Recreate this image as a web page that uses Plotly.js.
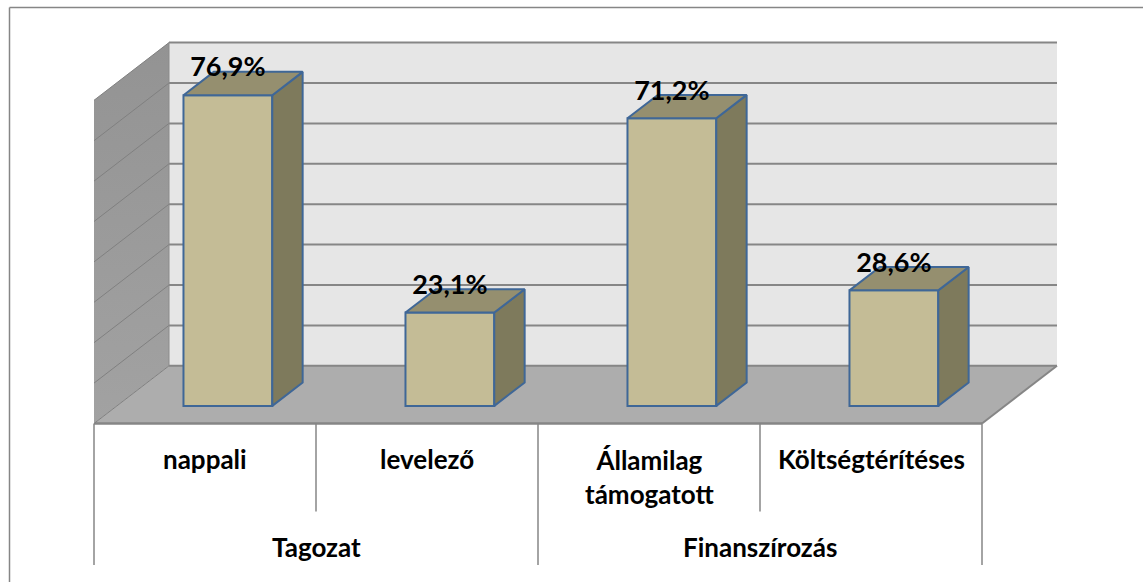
<!DOCTYPE html>
<html><head><meta charset="utf-8">
<script src="https://cdn.plot.ly/plotly-3.0.1.min.js"></script>
<style>html,body{margin:0;padding:0;background:#fff}#c{width:1143px;height:582px}</style>
</head><body><div id="c"></div>
<script>
const categories = ['nappali','levelező','Államilag<br>támogatott','Költségtérítéses'];
const values = [76.9,23.1,71.2,28.6];
const valueLabels = ['76,9%','23,1%','71,2%','28,6%'];
const groups = ['Tagozat','Finanszírozás'];
const groupSpans = [[0,2],[2,4]];
const gridValues = [0,10,20,30,40,50,60,70,80];

const W=1143,H=582;
// pixel calibration of the value/category axes
const px0=94, pxUnit=222, py0=423.5, pyUnit=4.04;
const xr=[-px0/pxUnit,(W-px0)/pxUnit], yr=[(py0-H)/pyUnit,py0/pyUnit];
const dX=75/pxUnit, dY=57.7/pyUnit;       // full depth of the floor
const barW=0.4, barFront=0.305, barDepth=0.405;
const bX=barFront*dX, bY=barFront*dY, sX=barDepth*dX, sY=barDepth*dY;
const axisBelow1=-88/pyUnit, axisBelow2=-141.5/pyUnit;
const gridC='#868686', edge='#3f6797';

const poly=(pts,fill)=>({type:'path',layer:'below',xref:'x',yref:'y',
  path:'M'+pts.map(p=>p.join(',')).join('L')+'Z',fillcolor:fill,line:{color:fill,width:0}});
const seg=(x0,y0,x1,y1,c,w)=>({type:'line',layer:'below',xref:'x',yref:'y',x0,y0,x1,y1,line:{color:c,width:w}});
const nCat=categories.length;
const shapes=[
  {type:'line',xref:'paper',yref:'paper',layer:'below',x0:9.5/W,x1:1,y0:1-7.5/H,y1:1-7.5/H,line:{color:'#868686',width:1.5}},
  {type:'line',xref:'paper',yref:'paper',layer:'below',x0:9.5/W,x1:9.5/W,y0:0,y1:1-7.5/H,line:{color:'#868686',width:1.5}},
  poly([[dX,dY],[nCat+dX,dY],[nCat+dX,80+dY],[dX,80+dY]],'#e6e6e6'),
  poly([[0,0],[dX,dY],[nCat+dX,dY],[nCat,0]],'#adadad')
];
gridValues.forEach(v=>{
  shapes.push(seg(dX,v+dY,nCat+dX,v+dY,gridC,2));
});
shapes.push(seg(0,0,nCat,0,gridC,2.5));
shapes.push(seg(nCat,0,nCat+dX,dY,gridC,2));
// vertical axis separators
for(let i=0;i<=nCat;i++){
  const low=(i%2===0)?axisBelow2:axisBelow1;
  shapes.push(seg(i,0,i,low,gridC,1.5));
}
const traces=[];
// left wall with gradient
traces.push({type:'scatter',mode:'lines',x:[0,dX,dX,0,0],y:[0,dY,80+dY,80,0],fill:'toself',
  line:{width:0},hoverinfo:'skip',showlegend:false,
  fillgradient:{type:'vertical',colorscale:[[0,'#a2a2a2'],[1,'#939393']]}});
gridValues.forEach(v=>traces.push({type:'scatter',mode:'lines',x:[0,dX],y:[v,v+dY],
  line:{color:'#808080',width:1},hoverinfo:'skip',showlegend:false}));
traces.push({type:'scatter',mode:'lines',x:[dX,dX],y:[dY,80+dY],line:{color:'#8a8a8a',width:1},hoverinfo:'skip',showlegend:false});
// bar front faces
const centres=values.map((v,i)=>i+0.5+bX);
traces.push({type:'bar',x:centres,y:values,base:values.map(()=>bY),width:barW,
  marker:{color:'#c4bc96',line:{color:edge,width:2}},showlegend:false,hoverinfo:'skip'});
// bar sides and tops
values.forEach((v,i)=>{
  const l=centres[i]-barW/2,r=centres[i]+barW/2,b=bY,t=bY+v;
  traces.push({type:'scatter',mode:'lines',x:[r,r+sX,r+sX,r,r],y:[b,b+sY,t+sY,t,b],fill:'toself',
    fillcolor:'#7e7a5c',line:{color:edge,width:2},hoverinfo:'skip',showlegend:false});
  traces.push({type:'scatter',mode:'lines',x:[l,l+sX,r+sX,r,l],y:[t,t+sY,t+sY,t,t],fill:'toself',
    fillcolor:'#958f6f',line:{color:edge,width:2},hoverinfo:'skip',showlegend:false});
});
// value labels
traces.push({type:'scatter',mode:'text',x:centres,y:values.map(v=>v+bY+25.5/pyUnit),text:valueLabels,
  textposition:'middle center',textfont:{family:'Lato, Carlito, sans-serif',size:27,color:'#000',weight:700},
  cliponaxis:false,hoverinfo:'skip',showlegend:false});
const font={family:'Lato, Carlito, sans-serif',size:26,color:'#000',weight:700};
const annotations=categories.map((c,i)=>({x:i+0.5,y:-35/pyUnit,xref:'x',yref:'y',text:c,showarrow:false,font,align:'center',yanchor:'middle'}));
groups.forEach((g,i)=>annotations.push({x:(groupSpans[i][0]+groupSpans[i][1])/2,y:-123/pyUnit,xref:'x',yref:'y',text:g,showarrow:false,font,yanchor:'middle'}));
annotations[2].y=-53/pyUnit;
Plotly.newPlot('c',traces,{
  width:W,height:H,margin:{l:0,r:0,t:0,b:0},paper_bgcolor:'#fff',plot_bgcolor:'rgba(0,0,0,0)',
  xaxis:{range:xr,visible:false,fixedrange:true},yaxis:{range:yr,visible:false,fixedrange:true},
  barmode:'overlay',shapes,annotations,showlegend:false
},{displayModeBar:false,staticPlot:true});
</script></body></html>
